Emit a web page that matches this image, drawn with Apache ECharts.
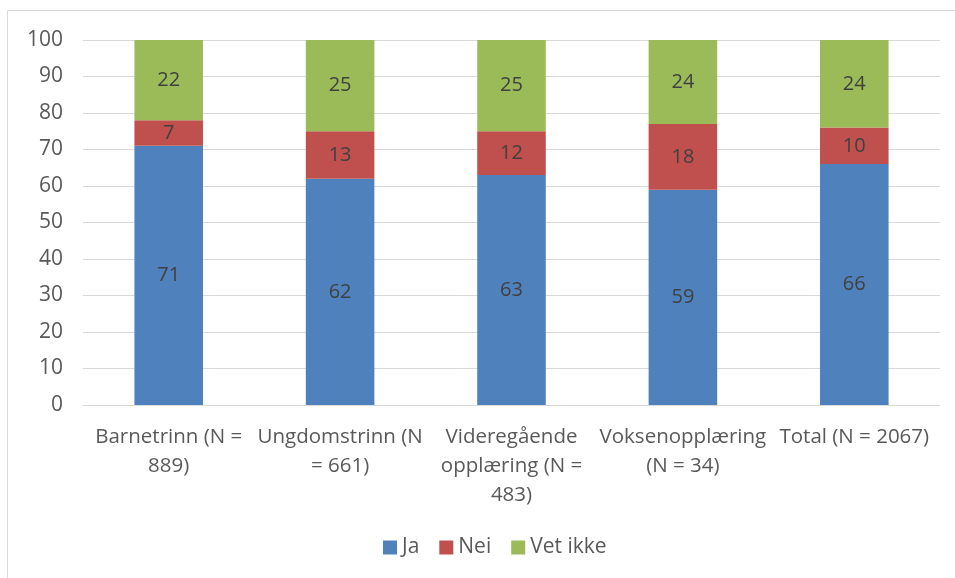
<!DOCTYPE html>
<html>
<head>
<meta charset="utf-8">
<script src="https://cdn.jsdelivr.net/npm/echarts@6/dist/echarts.min.js"></script>
<style>
  html, body { margin: 0; padding: 0; background: #fff; }
  #main { width: 955px; height: 578px; }
</style>
</head>
<body>
<div id="main"></div>
<script>
// 数据
var categories = ['Barnetrinn (N =\n889)', 'Ungdomstrinn (N\n= 661)', 'Videregående\nopplæring (N =\n483)', 'Voksenopplæring\n(N = 34)', 'Total (N = 2067)']
var ja = [71, 62, 63, 59, 66]
var nei = [7, 13, 12, 18, 10]
var vetIkke = [22, 25, 25, 24, 24]

var myChart = echarts.init(document.getElementById('main'))

var font = 'Open Sans'
var labelStyle = {
  show: true,
  position: 'inside',
  color: '#404040',
  fontSize: 20,
  fontFamily: font
}

var option = {
  animation: false,
  // 外边框
  graphic: [{
    type: 'rect',
    shape: { x: 7.5, y: 10.5, width: 960, height: 580 },
    style: { fill: 'none', stroke: '#d9d9d9', lineWidth: 1 }
  }],
  legend: {
    bottom: 15,
    left: 378,
    itemWidth: 14,
    itemHeight: 14,
    itemGap: 20,
    icon: 'rect',
    textStyle: { color: '#595959', fontSize: 21, fontFamily: font },
    data: ['Ja', 'Nei', 'Vet ikke']
  },
  grid: {
    left: 83,
    right: 15,
    top: 40,
    bottom: 173
  },
  xAxis: {
    type: 'category',
    data: categories,
    axisTick: { show: false },
    axisLine: { lineStyle: { color: '#d9d9d9', width: 1 } },
    axisLabel: {
      color: '#595959',
      fontSize: 20.5,
      fontFamily: font,
      lineHeight: 29,
      margin: 18,
      interval: 0
    }
  },
  yAxis: {
    type: 'value',
    min: 0,
    max: 100,
    interval: 10,
    axisLine: { show: false },
    axisTick: { show: false },
    splitLine: { lineStyle: { color: '#d9d9d9', width: 1 } },
    axisLabel: {
      color: '#595959',
      fontSize: 21,
      fontFamily: font,
      margin: 20
    }
  },
  series: [{
      name: 'Ja',
      type: 'bar',
      stack: 'a',
      barWidth: '40%',
      itemStyle: { color: '#4f81bd' },
      label: labelStyle,
      data: ja
    },
    {
      name: 'Nei',
      type: 'bar',
      stack: 'a',
      itemStyle: { color: '#c0504d' },
      label: labelStyle,
      data: nei
    },
    {
      name: 'Vet ikke',
      type: 'bar',
      stack: 'a',
      itemStyle: { color: '#9bbb59' },
      label: labelStyle,
      data: vetIkke
    }
  ]
}

myChart.setOption(option)
</script>
</body>
</html>
